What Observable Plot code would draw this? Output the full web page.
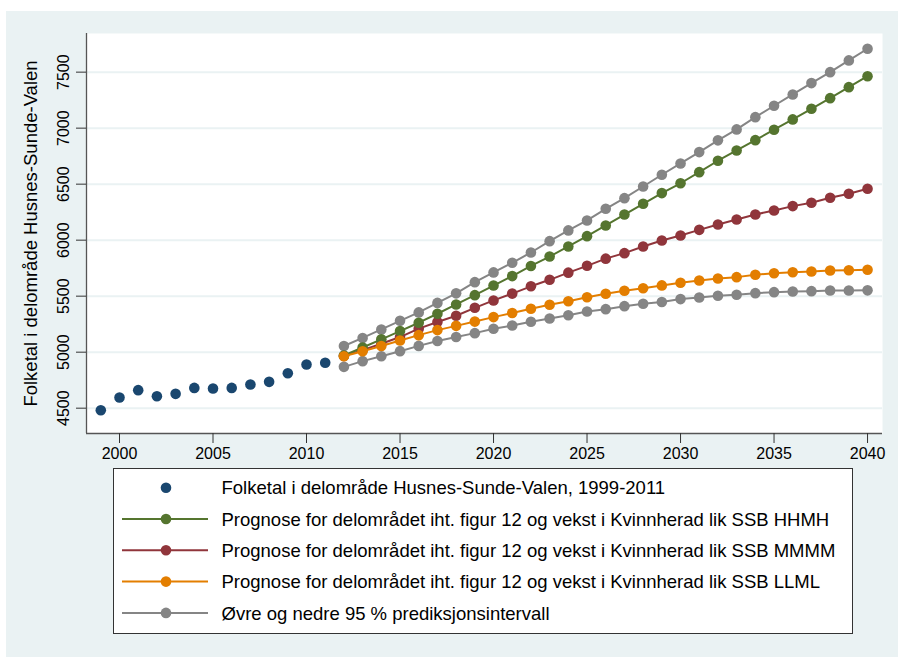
<!DOCTYPE html>
<html>
<head>
<meta charset="utf-8">
<script src="https://cdn.jsdelivr.net/npm/d3@7"></script>
<script src="https://cdn.jsdelivr.net/npm/@observablehq/plot@0.6"></script>
<style>
  html, body { margin: 0; padding: 0; background: #ffffff; width: 898px; height: 657px; overflow: hidden; }
  #bg { position: absolute; left: 6px; top: 11px; width: 892px; height: 646px; background: #eaf2f3; }
  #chart { position: absolute; left: 0; top: 0; }
  #legend { position: absolute; left: 113px; top: 468px; }
  text { font-family: "Liberation Sans", Arial, sans-serif; }
</style>
</head>
<body>
<div id="bg"></div>
<div id="chart"></div>
<div id="legend"></div>
<script>
// ---- data ----
const histYears = [1999, 2000, 2001, 2002, 2003, 2004, 2005, 2006, 2007, 2008, 2009, 2010, 2011];
const histValues = [4482, 4596, 4661, 4607, 4628, 4681, 4676, 4681, 4711, 4735, 4812, 4890, 4905];

const progYears = [2012, 2013, 2014, 2015, 2016, 2017, 2018, 2019, 2020, 2021, 2022, 2023, 2024, 2025,
  2026, 2027, 2028, 2029, 2030, 2031, 2032, 2033, 2034, 2035, 2036, 2037, 2038, 2039, 2040];
const hhmh = [4970, 5042, 5115, 5188, 5263, 5343, 5426, 5509, 5595, 5679, 5770, 5854, 5944, 6036,
  6131, 6229, 6325, 6420, 6508, 6607, 6709, 6801, 6893, 6986, 7078, 7173, 7268, 7366, 7464];
const mmmm = [4966, 5018, 5075, 5135, 5210, 5270, 5325, 5396, 5462, 5523, 5588, 5646, 5710, 5771,
  5835, 5884, 5944, 5997, 6042, 6092, 6140, 6185, 6229, 6265, 6304, 6334, 6379, 6414, 6459];
const llml = [4963, 5008, 5055, 5104, 5152, 5197, 5235, 5273, 5313, 5350, 5388, 5423, 5455, 5491,
  5521, 5548, 5571, 5596, 5620, 5640, 5658, 5670, 5691, 5705, 5714, 5720, 5729, 5731, 5736];
const upper95 = [5055, 5127, 5203, 5280, 5355, 5440, 5525, 5625, 5712, 5798, 5890, 5991, 6087, 6176,
  6280, 6375, 6479, 6584, 6685, 6786, 6891, 6989, 7098, 7200, 7301, 7402, 7500, 7605, 7709];
const lower95 = [4869, 4920, 4964, 5009, 5056, 5100, 5136, 5170, 5209, 5238, 5272, 5300, 5330, 5363,
  5384, 5411, 5432, 5448, 5474, 5488, 5504, 5513, 5527, 5536, 5542, 5545, 5550, 5551, 5552];

const xTicks = [2000, 2005, 2010, 2015, 2020, 2025, 2030, 2035, 2040];
const yTicks = [4500, 5000, 5500, 6000, 6500, 7000, 7500];
const yTitle = "Folketal i delområde Husnes-Sunde-Valen";

const legendLabels = [
  "Folketal i delområde Husnes-Sunde-Valen, 1999-2011",
  "Prognose for delområdet iht. figur 12 og vekst i Kvinnherad lik SSB HHMH",
  "Prognose for delområdet iht. figur 12 og vekst i Kvinnherad lik SSB MMMM",
  "Prognose for delområdet iht. figur 12 og vekst i Kvinnherad lik SSB LLML",
  "Øvre og nedre 95 % prediksjonsintervall"
];

const cNavy = "#1a476f", cGreen = "#55752f", cRed = "#90353b", cOrange = "#e37e00", cGray = "#858585";

// ---- tables ----
const hist = histYears.map((y, i) => ({year: y, value: histValues[i]}));
const series = (arr) => progYears.map((y, i) => ({year: y, value: arr[i]}));
const sUpper = series(upper95), sLower = series(lower95);
const sGreen = series(hhmh), sRed = series(mmmm), sOrange = series(llml);

const xDom = [1998.235, 2040.8];
const yDom = [4274, 7845];
const FONT = "Liberation Sans, Arial, Helvetica, sans-serif";

function conn(data, color) {
  return [
    Plot.line(data, {x: "year", y: "value", stroke: color, strokeWidth: 2}),
    Plot.dot(data, {x: "year", y: "value", r: 5.3, fill: color, stroke: null})
  ];
}

const chart = Plot.plot({
  width: 898,
  height: 470,
  marginLeft: 86,
  marginRight: 16,
  marginTop: 33,
  marginBottom: 37,
  x: {domain: xDom},
  y: {domain: yDom},
  style: {background: "transparent", fontFamily: FONT, color: "#000"},
  marks: [
    Plot.frame({fill: "white", stroke: null}),
    Plot.ruleY(yTicks, {stroke: "#eaf2f3", strokeWidth: 2}),
    Plot.ruleX([xDom[0]], {stroke: "#555", strokeWidth: 1.3}),
    Plot.ruleY([yDom[0]], {stroke: "#555", strokeWidth: 1.3}),
    Plot.axisX({ticks: xTicks, tickSize: 10, tickPadding: 4, tickFormat: d => String(d), fontSize: 16, label: null, stroke: "#333"}),
    Plot.axisY({ticks: yTicks, tickSize: 10, tickFormat: () => "", label: null, stroke: "#333"}),
    Plot.text(yTicks, {y: d => d, text: d => String(d), frameAnchor: "left", dx: -23, rotate: -90, textAnchor: "middle", lineAnchor: "middle", fontSize: 16, fill: "#000"}),
    Plot.text([yTitle], {text: d => d, frameAnchor: "left", dx: -55, rotate: -90, textAnchor: "middle", lineAnchor: "middle", fontSize: 18.5, fill: "#000"}),
    Plot.dot(hist, {x: "year", y: "value", r: 5.3, fill: cNavy, stroke: null}),
    ...conn(sUpper, cGray),
    ...conn(sLower, cGray),
    ...conn(sRed, cRed),
    ...conn(sGreen, cGreen),
    ...conn(sOrange, cOrange)
  ]
});
document.getElementById("chart").appendChild(chart);

// ---- legend ----
const legendItems = [
  {label: legendLabels[0], color: cNavy, line: false},
  {label: legendLabels[1], color: cGreen, line: true},
  {label: legendLabels[2], color: cRed, line: true},
  {label: legendLabels[3], color: cOrange, line: true},
  {label: legendLabels[4], color: cGray, line: true}
];
const lw = 740, lh = 166;
const svg = d3.select("#legend").append("svg").attr("width", lw).attr("height", lh);
svg.append("rect").attr("x", 0.5).attr("y", 0.5).attr("width", lw - 1).attr("height", lh - 1)
  .attr("fill", "white").attr("stroke", "#333").attr("stroke-width", 1);
legendItems.forEach((d, i) => {
  const cy = 19.7 + i * 31.3;
  const g = svg.append("g");
  if (d.line) g.append("line").attr("x1", 9).attr("x2", 95).attr("y1", cy).attr("y2", cy).attr("stroke", d.color).attr("stroke-width", 2);
  g.append("circle").attr("cx", 53).attr("cy", cy).attr("r", 5.3).attr("fill", d.color);
  g.append("text").attr("x", 108.5).attr("y", cy).attr("dy", "0.36em").attr("font-size", 18.5).attr("font-family", FONT).attr("fill", "#000").text(d.label);
});
</script>
</body>
</html>
